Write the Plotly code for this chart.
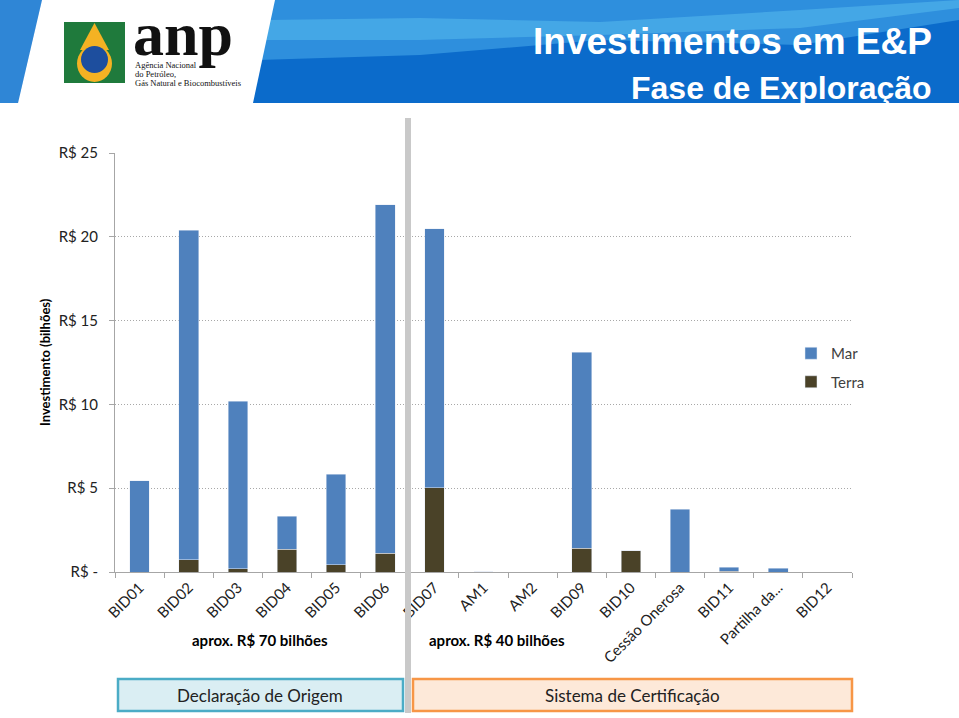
import plotly.graph_objects as go

categories = ["BID01", "BID02", "BID03", "BID04", "BID05", "BID06", "BID07", "AM1", "AM2",
              "BID09", "BID10", "Cessão Onerosa", "BID11", "Partilha da...", "BID12"]
terra = [0.0, 0.72, 0.18, 1.35, 0.42, 1.12, 5.03, 0.02, 0.0, 1.42, 1.27, 0.0, 0.05, 0.0, 0.0]
mar = [5.45, 19.68, 10.0, 1.97, 5.41, 20.8, 15.46, 0.0, 0.0, 11.68, 0.0, 3.73, 0.24, 0.23, 0.0]
y_tickvals = [0, 5, 10, 15, 20, 25]
y_ticktext = ["R$ -", "R$ 5", "R$ 10", "R$ 15", "R$ 20", "R$ 25"]

W, H = 959, 718
L, R, T, B = 115, 852, 153, 572


def px(x):
    return (x - L) / (R - L)


def py(y):
    return (B - y) / (B - T)


FONT = "Lato"
fig = go.Figure()
fig.add_trace(go.Bar(x=categories, y=terra, name="Terra", marker_color="#4A4228", width=0.4,
                     legendgroup="t", legendrank=2))
fig.add_trace(go.Bar(x=categories, y=mar, name="Mar", marker_color="#4F81BD", width=0.4,
                     legendgroup="m", legendrank=1))

shapes = []
# header
shapes.append(dict(type="rect", xref="paper", yref="paper", x0=px(0), x1=px(W), y0=py(103), y1=py(0),
                   fillcolor="#0B6BCB", line=dict(width=0), layer="below"))


def path(points, close=True):
    s = "M " + " L ".join(f"{px(a):.5f},{py(b):.5f}" for a, b in points)
    return s + (" Z" if close else "")


shapes.append(dict(type="path", xref="paper", yref="paper",
                   path=path([(270, 0), (959, 0), (959, 20), (800, 45), (600, 40), (420, 55), (258, 60)]),
                   fillcolor="#2E8FDD", line=dict(width=0), layer="below"))
shapes.append(dict(type="path", xref="paper", yref="paper",
                   path=path([(266, 20), (420, 18), (600, 22), (800, 10), (959, 0), (959, 8), (800, 28),
                              (600, 35), (420, 40), (262, 40)]),
                   fillcolor="#4FB0EA", line=dict(width=0), opacity=0.7, layer="below"))
shapes.append(dict(type="path", xref="paper", yref="paper",
                   path=path([(0, 0), (42, 0), (18, 103), (0, 103)]),
                   fillcolor="#2F86D6", line=dict(width=0), layer="below"))
# white logo panel
shapes.append(dict(type="path", xref="paper", yref="paper",
                   path=path([(42, 0), (275, 0), (253, 103), (18, 103)]),
                   fillcolor="white", line=dict(width=0), layer="below"))
# logo green square
shapes.append(dict(type="rect", xref="paper", yref="paper", x0=px(64), x1=px(125), y0=py(83), y1=py(22),
                   fillcolor="#1F7A3C", line=dict(width=0), layer="below"))
shapes.append(dict(type="path", xref="paper", yref="paper",
                   path=path([(94.5, 23), (80, 50), (109, 50)]),
                   fillcolor="#F4B223", line=dict(width=0), layer="below"))
shapes.append(dict(type="circle", xref="paper", yref="paper", x0=px(77), x1=px(112), y0=py(82), y1=py(45),
                   fillcolor="#F4B223", line=dict(width=0), layer="below"))
shapes.append(dict(type="circle", xref="paper", yref="paper", x0=px(81), x1=px(108), y0=py(73), y1=py(46),
                   fillcolor="#1D4E9E", line=dict(width=0), layer="below"))
# separator
shapes.append(dict(type="rect", xref="paper", yref="paper", x0=px(405), x1=px(411), y0=py(713), y1=py(118),
                   fillcolor="#C9C9C9", line=dict(width=0), layer="above"))
# bottom boxes
shapes.append(dict(type="rect", xref="paper", yref="paper", x0=px(118), x1=px(403), y0=py(711), y1=py(679),
                   fillcolor="#DAEEF3", line=dict(color="#4BACC6", width=2.5)))
shapes.append(dict(type="rect", xref="paper", yref="paper", x0=px(413), x1=px(852), y0=py(711), y1=py(679),
                   fillcolor="#FDE9D9", line=dict(color="#F79646", width=2.5)))

annotations = []


def ann(text, x, y, size, color="#000", family=FONT, xanchor="center", yanchor="middle", textangle=0):
    annotations.append(dict(text=text, xref="paper", yref="paper", x=px(x), y=py(y), showarrow=False,
                            xanchor=xanchor, yanchor=yanchor, textangle=textangle,
                            font=dict(size=size, color=color, family=family)))


ann("<b>Investimentos em E&P</b>", 934, 42, 37, "white", "Liberation Sans", xanchor="right")
ann("<b>Fase de Exploração</b>", 934, 88, 32, "white", "Liberation Sans", xanchor="right")
ann("<b>anp</b>", 131, 34, 62, "#111", "Liberation Serif", xanchor="left")
ann("Agência Nacional", 133, 65, 8.5, "#111", "Liberation Serif", xanchor="left")
ann("do Petróleo,", 133, 74, 8.5, "#111", "Liberation Serif", xanchor="left")
ann("Gás Natural e Biocombustíveis", 133, 83, 8.5, "#111", "Liberation Serif", xanchor="left")
ann("<b>Investimento (bilhões)</b>", 45, 362, 13, "#000", FONT, textangle=-90)
ann("<b>aprox. R$ 70 bilhões</b>", 260, 640, 15, "#000")
ann("<b>aprox. R$ 40 bilhões</b>", 497, 640, 15, "#000")
ann("Declaração de Origem", 260, 695, 17, "#222")
ann("Sistema de Certificação", 632, 695, 17, "#222")

fig.update_layout(
    width=W, height=H, barmode="stack",
    margin=dict(l=L, r=W - R, t=T, b=H - B, pad=0),
    paper_bgcolor="white", plot_bgcolor="white",
    font=dict(family=FONT, size=15, color="#333"),
    shapes=shapes, annotations=annotations,
    legend=dict(x=px(791), y=py(337), xanchor="left", yanchor="top", traceorder="grouped",
                font=dict(size=15, color="#404040"), bgcolor="rgba(0,0,0,0)", itemwidth=30,
                tracegroupgap=6),
    showlegend=True,
)
fig.update_yaxes(range=[0, 25], tickvals=y_tickvals, ticktext=y_ticktext, showgrid=True,
                 gridcolor="#A8A8A8", griddash="1px,2px", gridwidth=1, showline=True, linecolor="#A6A6A6",
                 ticks="outside", ticklen=5, tickcolor="#A6A6A6", zeroline=False,
                 ticklabelstandoff=8, tickfont=dict(size=15, color="#222"))
fig.update_xaxes(tickangle=-45, showline=True, linecolor="#A6A6A6", ticks="outside", ticklen=5,
                 tickcolor="#A6A6A6", tickson="boundaries", tickfont=dict(size=15, color="#222"),
                 range=[-0.5, len(categories) - 0.5])

fig.write_html("out.html", post_script="document.body.style.margin='0';",
               config={"displayModeBar": False})
